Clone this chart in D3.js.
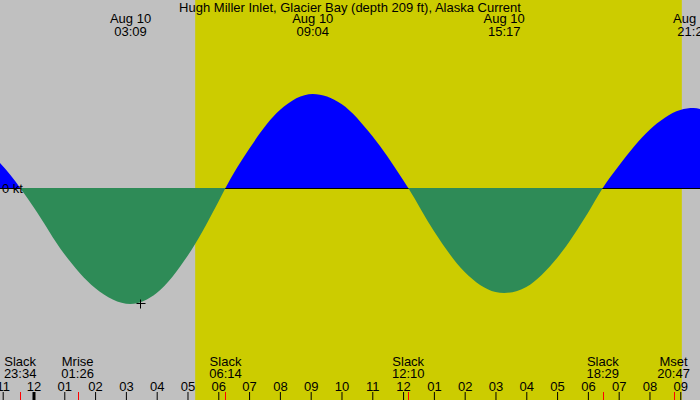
<!DOCTYPE html>
<html>
<head>
<meta charset="utf-8">
<script src="https://cdn.jsdelivr.net/npm/d3@7"></script>
<style>
  body { margin: 0; background: #fff; }
  svg text { font-family: "Liberation Sans", Arial, sans-serif; font-size: 13px; fill: #000; }
</style>
</head>
<body>
<div id="chart"></div>
<script>
// Chart data
const title = "Hugh Miller Inlet, Glacier Bay (depth 209 ft), Alaska Current";
const viewRange = ["2024-08-09 22:54:45", "2024-08-10 21:38:25"];
const daylight = ["2024-08-10 05:15:00", "2024-08-10 21:03:00"];

// current speed through the day (knots, + flood / - ebb)
const flowTimes = [
  "2024-08-09 22:54:45", "2024-08-09 23:15:00", "2024-08-09 23:34:00",
  "2024-08-10 00:00:00", "2024-08-10 01:00:00", "2024-08-10 02:00:00",
  "2024-08-10 03:09:00", "2024-08-10 04:00:00", "2024-08-10 05:00:00",
  "2024-08-10 06:00:00", "2024-08-10 06:14:00", "2024-08-10 07:00:00",
  "2024-08-10 08:00:00", "2024-08-10 09:04:00", "2024-08-10 10:00:00",
  "2024-08-10 11:00:00", "2024-08-10 12:00:00", "2024-08-10 12:10:00",
  "2024-08-10 13:00:00", "2024-08-10 14:00:00", "2024-08-10 15:00:00",
  "2024-08-10 15:17:00", "2024-08-10 16:00:00", "2024-08-10 17:00:00",
  "2024-08-10 18:00:00", "2024-08-10 18:29:00", "2024-08-10 19:00:00",
  "2024-08-10 20:00:00", "2024-08-10 21:00:00", "2024-08-10 21:26:00",
  "2024-08-10 21:38:25"
];
const flowKnots = [
  0.25, 0.13, 0.00,
  -0.19, -0.66, -1.00,
  -1.16, -1.05, -0.68,
  -0.14, 0.00, 0.39,
  0.78, 0.94, 0.84,
  0.52, 0.08, 0.00,
  -0.43, -0.84, -1.04,
  -1.05, -0.99, -0.70,
  -0.25, 0.00, 0.22,
  0.58, 0.78, 0.80,
  0.79
];

// max flood / ebb labels along the top
const peakTimes = ["2024-08-10 03:09:00", "2024-08-10 09:04:00", "2024-08-10 15:17:00", "2024-08-10 21:26:00"];
const peakDays = ["Aug 10", "Aug 10", "Aug 10", "Aug 10"];

// slack water and moon events along the bottom
const eventNames = ["Slack", "Mrise", "Slack", "Slack", "Slack", "Mset"];
const eventTimes = ["2024-08-09 23:34:00", "2024-08-10 01:26:00", "2024-08-10 06:14:00",
                    "2024-08-10 12:10:00", "2024-08-10 18:29:00", "2024-08-10 20:47:00"];

// the small cross on the first ebb
const crossTime = "2024-08-10 03:27:00";
const crossKnots = -1.15;

const yDomain = [-2.12, 1.88];

const W = 700, H = 400;
const parse = d3.timeParse("%Y-%m-%d %H:%M:%S");
const hhmm = d3.timeFormat("%H:%M");

const svg = d3.select("#chart")
  .append("svg")
    .attr("width", W)
    .attr("height", H);

const x = d3.scaleTime()
  .domain(viewRange.map(parse))
  .range([0, W]);

const y = d3.scaleLinear()
  .domain(yDomain)
  .range([H, 0]);

const y0 = Math.round(y(0));
const flow = flowTimes.map((t, i) => ({date: parse(t), v: flowKnots[i]}));

// clip regions above / below the zero line
const defs = svg.append("defs");
defs.append("clipPath").attr("id", "above")
  .append("rect").attr("width", W).attr("height", y0);
defs.append("clipPath").attr("id", "below")
  .append("rect").attr("y", y0).attr("width", W).attr("height", H - y0);

// night / day background
svg.append("rect")
  .attr("width", W).attr("height", H)
  .attr("fill", "#c0c0c0");
svg.append("rect")
  .attr("x", x(parse(daylight[0])))
  .attr("width", x(parse(daylight[1])) - x(parse(daylight[0])))
  .attr("height", H)
  .attr("fill", "#cccc00");

const flowArea = d3.area()
  .x(d => x(d.date))
  .y0(y0)
  .y1(d => y(d.v))
  .curve(d3.curveMonotoneX);

// flood (blue) above zero
svg.append("path")
  .datum(flow)
  .attr("clip-path", "url(#above)")
  .attr("fill", "#0000ff")
  .attr("d", flowArea);

// zero line
svg.append("line")
  .attr("x1", 0).attr("x2", W)
  .attr("y1", y0 + 0.5).attr("y2", y0 + 0.5)
  .attr("stroke", "#000");

// ebb (green) below zero, drawn over the zero line
svg.append("path")
  .datum(flow)
  .attr("clip-path", "url(#below)")
  .attr("fill", "#2e8b57")
  .attr("d", flowArea);

svg.append("text")
  .attr("x", 2)
  .attr("y", y0 + 5)
  .text("0 kt");

// cross marker
const cx = Math.round(x(parse(crossTime))) + 0.5;
const cy = Math.round(y(crossKnots)) + 0.5;
svg.append("path")
  .attr("d", `M${cx - 4},${cy}H${cx + 5}M${cx},${cy - 4}V${cy + 5}`)
  .attr("stroke", "#000");

// title
svg.append("text")
  .attr("x", W / 2)
  .attr("y", 12)
  .attr("text-anchor", "middle")
  .text(title);

// peak labels
const peaks = svg.append("g").selectAll("text")
  .data(peakTimes)
  .join("text")
  .attr("text-anchor", "middle")
  .attr("transform", d => `translate(${x(parse(d))},0)`);
peaks.append("tspan").attr("x", 0).attr("y", 23).text((d, i) => peakDays[i]);
peaks.append("tspan").attr("x", 0).attr("y", 36).text(d => hhmm(parse(d)));

// hour axis along the bottom
const axis = svg.append("g")
  .attr("transform", `translate(0,${H})`)
  .call(d3.axisTop(x)
    .ticks(d3.timeHour.every(1))
    .tickSize(8)
    .tickPadding(1)
    .tickFormat(d3.timeFormat("%I")));
axis.select(".domain").remove();
axis.selectAll(".tick line").attr("stroke", "#000")
  .attr("stroke-width", d => d.getHours() === 0 ? 3 : 1);
axis.selectAll(".tick text")
  .attr("fill", "#000")
  .style("font-family", "Liberation Sans, Arial, sans-serif")
  .style("font-size", "13px");

// event ticks and labels
svg.append("g").selectAll("line")
  .data(eventTimes)
  .join("line")
  .attr("x1", d => Math.round(x(parse(d))) + 0.5)
  .attr("x2", d => Math.round(x(parse(d))) + 0.5)
  .attr("y1", H - 8).attr("y2", H)
  .attr("stroke", "#ff0000");

const events = svg.append("g").selectAll("text")
  .data(eventTimes)
  .join("text")
  .attr("text-anchor", "middle")
  .attr("transform", d => `translate(${x(parse(d))},0)`);
events.append("tspan").attr("x", 0).attr("y", 366).text((d, i) => eventNames[i]);
events.append("tspan").attr("x", 0).attr("y", 378).text(d => hhmm(parse(d)));
</script>
</body>
</html>
